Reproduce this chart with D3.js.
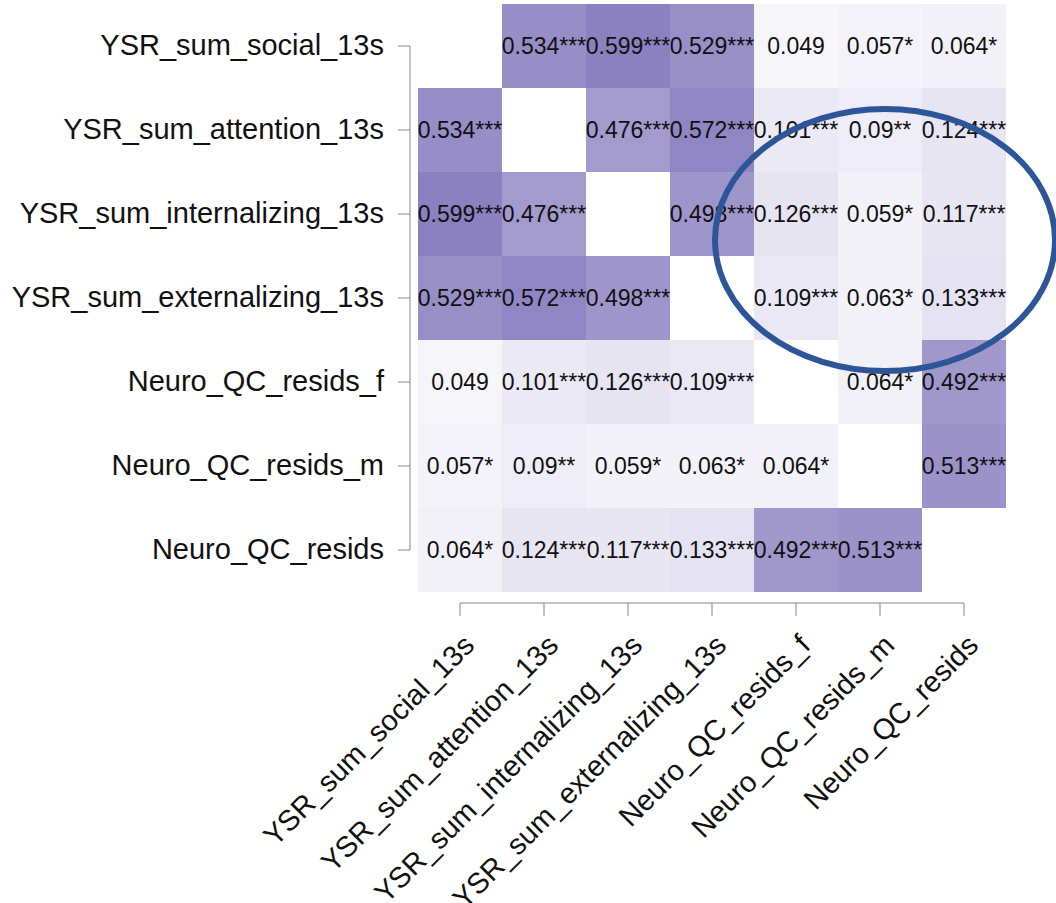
<!DOCTYPE html>
<html>
<head>
<meta charset="utf-8">
<script src="https://cdn.jsdelivr.net/npm/d3@7"></script>
<style>
  body { margin: 0; background: #fff; }
  svg text { font-family: "Liberation Sans", Arial, sans-serif; }
</style>
</head>
<body>
<div id="my_dataviz"></div>
<script>
// variable names, same order on both axes
var vars = ["YSR_sum_social_13s", "YSR_sum_attention_13s", "YSR_sum_internalizing_13s",
            "YSR_sum_externalizing_13s", "Neuro_QC_resids_f", "Neuro_QC_resids_m", "Neuro_QC_resids"];

// correlation matrix (null on the diagonal)
var corr = [
  [null,  0.534, 0.599, 0.529, 0.049, 0.057, 0.064],
  [0.534, null,  0.476, 0.572, 0.101, 0.09,  0.124],
  [0.599, 0.476, null,  0.498, 0.126, 0.059, 0.117],
  [0.529, 0.572, 0.498, null,  0.109, 0.063, 0.133],
  [0.049, 0.101, 0.126, 0.109, null,  0.064, 0.492],
  [0.057, 0.09,  0.059, 0.063, 0.064, null,  0.513],
  [0.064, 0.124, 0.117, 0.133, 0.492, 0.513, null ]
];

// significance stars
var stars = [
  ["",    "***", "***", "***", "",    "*",   "*"  ],
  ["***", "",    "***", "***", "***", "**",  "***"],
  ["***", "***", "",    "***", "***", "*",   "***"],
  ["***", "***", "***", "",    "***", "*",   "***"],
  ["",    "***", "***", "***", "",    "*",   "***"],
  ["*",   "**",  "*",   "*",   "*",   "",    "***"],
  ["*",   "***", "***", "***", "***", "***", ""   ]
];

var W = 1056, H = 903;
var margin = {left: 418, top: 4};
var cell = 84;
var n = vars.length;

var svg = d3.select("#my_dataviz")
  .append("svg")
    .attr("width", W)
    .attr("height", H);

var x = d3.scaleBand().domain(vars).range([margin.left, margin.left + cell * n]);
var y = d3.scaleBand().domain(vars).range([margin.top, margin.top + cell * n]);

var color = d3.scaleLinear().domain([0, 1]).range(["#ffffff", "#3d2b96"]);

// flatten into cells
var cells = [];
corr.forEach(function(row, i) {
  row.forEach(function(v, j) {
    if (v !== null) cells.push({row: vars[i], col: vars[j], value: v, star: stars[i][j]});
  });
});

svg.append("g").selectAll("rect")
  .data(cells)
  .enter()
  .append("rect")
    .attr("x", function(d) { return x(d.col); })
    .attr("y", function(d) { return y(d.row); })
    .attr("width", x.bandwidth())
    .attr("height", y.bandwidth())
    .attr("fill", function(d) { return color(d.value); });

svg.append("g").selectAll("text")
  .data(cells)
  .enter()
  .append("text")
    .attr("x", function(d) { return x(d.col) + x.bandwidth() / 2; })
    .attr("y", function(d) { return y(d.row) + y.bandwidth() / 2; })
    .attr("dy", "0.36em")
    .attr("text-anchor", "middle")
    .style("font-size", "23px")
    .style("fill", "#111")
    .text(function(d) { return d.value + d.star; });

// y axis (left)
var yAxis = svg.append("g")
  .attr("transform", "translate(410,0)")
  .call(d3.axisLeft(y).tickSize(12).tickPadding(14).tickSizeOuter(0));
yAxis.select(".domain")
  .attr("d", "M0," + (y(vars[0]) + cell / 2) + "V" + (y(vars[n - 1]) + cell / 2))
  .attr("stroke", "#888");
yAxis.selectAll(".tick line").attr("stroke", "#888");
yAxis.selectAll("text")
  .style("font-size", "29px")
  .style("fill", "#111");

// x axis (bottom)
var xAxis = svg.append("g")
  .attr("transform", "translate(0,603)")
  .call(d3.axisBottom(x).tickSize(13).tickSizeOuter(0));
xAxis.select(".domain")
  .attr("d", "M" + (x(vars[0]) + cell / 2) + ",0H" + (x(vars[n - 1]) + cell / 2))
  .attr("stroke", "#888");
xAxis.selectAll(".tick line").attr("stroke", "#888");
xAxis.selectAll("text")
  .attr("y", 0)
  .attr("dy", 0)
  .attr("transform", "translate(16,44)rotate(-45)")
  .style("text-anchor", "end")
  .style("font-size", "29px")
  .style("fill", "#111");

// highlight ellipse around YSR vs Neuro block
svg.append("ellipse")
  .attr("cx", x(vars[5]) + cell / 2 + 5)
  .attr("cy", y(vars[2]) + cell / 2 + 26)
  .attr("rx", 170)
  .attr("ry", 131)
  .attr("fill", "none")
  .attr("stroke", "#2e5597")
  .attr("stroke-width", 6);
</script>
</body>
</html>
